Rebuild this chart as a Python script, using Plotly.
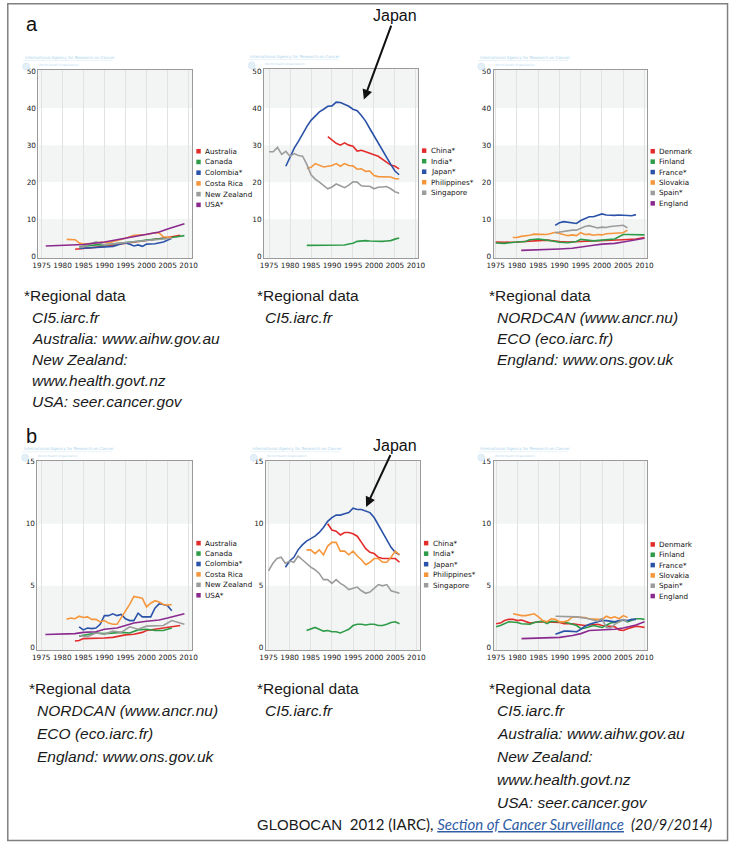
import plotly.graph_objects as go

W, H = 736, 845

# ---------------- colours ----------------
RED, GREEN, BLUE, ORANGE, GREY, PURPLE = "#e32b2b", "#2e9b48", "#2a52a8", "#f5963c", "#9c9c9c", "#8b2a8e"

YEAR_TICKS = [1975, 1980, 1985, 1990, 1995, 2000, 2005, 2010]
YTICKS_A = [0, 10, 20, 30, 40, 50]
YTICKS_B = [0, 5, 10, 15]

# ---------------- panel a1 ----------------
a1_australia = [(1983, 1.8), (1985, 2.0), (1988, 2.3), (1990, 2.6), (1993, 3.1), (1995, 3.4), (1998, 3.9), (2000, 4.2), (2003, 4.6), (2005, 5.0), (2008, 5.6)]
a1_canada = [(1984, 2.5), (1986, 2.8), (1988, 3.0), (1990, 3.0), (1992, 3.2), (1995, 3.6), (1998, 4.0), (2000, 4.3), (2003, 4.6), (2006, 5.0), (2009, 5.5)]
a1_colombia = [(1984, 2.0), (1986, 2.2), (1988, 2.4), (1990, 2.5), (1992, 2.6), (1994, 3.3), (1995, 3.5), (1996, 3.2), (1997, 2.7), (1998, 3.0), (1999, 2.6), (2000, 3.2), (2002, 3.3), (2004, 3.8), (2005, 4.2), (2006, 4.8)]
a1_costa_rica = [(1981, 4.5), (1983, 4.4), (1984, 3.5), (1985, 3.2), (1987, 3.4), (1989, 3.7), (1991, 3.6), (1993, 4.1), (1995, 4.8), (1997, 5.6), (2000, 5.8), (2002, 6.3), (2003, 6.2), (2004, 5.2), (2006, 5.0)]
a1_new_zealand = [(1984, 2.2), (1986, 3.0), (1988, 3.8), (1990, 3.0), (1992, 3.3), (1995, 3.7), (1998, 4.0), (2000, 4.2), (2003, 4.5), (2006, 4.8)]
a1_usa = [(1976, 2.7), (1980, 2.8), (1985, 3.1), (1990, 3.8), (1995, 4.9), (2000, 6.0), (2003, 6.5), (2005, 7.3), (2007, 8.1), (2009, 8.7)]

# ---------------- panel a2 ----------------
a2_china = [(1989, 32.3), (1990, 31.3), (1991, 30.5), (1992, 30.0), (1993, 30.6), (1994, 30.0), (1995, 29.7), (1996, 28.4), (1997, 28.6), (1998, 28.2), (1999, 27.9), (2000, 27.4), (2001, 27.0), (2002, 26.2), (2003, 25.4), (2004, 24.6), (2005, 24.3), (2006, 23.6)]
a2_india = [(1984, 2.9), (1985, 2.9), (1986, 2.8), (1987, 2.9), (1988, 2.9), (1989, 3.0), (1990, 3.0), (1991, 3.0), (1992, 3.0), (1993, 3.0), (1994, 3.3), (1995, 3.5), (1996, 4.0), (1997, 4.2), (1998, 4.2), (1999, 4.1), (2000, 4.0), (2001, 4.1), (2002, 4.0), (2003, 4.1), (2004, 4.2), (2005, 4.6), (2006, 4.9)]
a2_japan = [(1979, 24.3), (1980, 27.0), (1981, 29.2), (1982, 31.0), (1983, 33.2), (1984, 35.0), (1985, 36.7), (1986, 38.0), (1987, 39.0), (1988, 39.7), (1989, 40.5), (1990, 40.6), (1991, 41.6), (1992, 41.5), (1993, 41.0), (1994, 40.5), (1995, 39.7), (1996, 39.3), (1997, 38.0), (1998, 36.5), (1999, 34.5), (2000, 32.5), (2001, 30.8), (2002, 28.8), (2003, 26.8), (2004, 24.8), (2005, 23.0), (2006, 22.0)]
a2_philippines = [(1984, 23.7), (1985, 24.0), (1986, 25.0), (1987, 24.6), (1988, 24.1), (1989, 24.3), (1990, 24.5), (1991, 25.0), (1992, 24.3), (1993, 25.0), (1994, 24.5), (1995, 24.4), (1996, 23.5), (1997, 23.6), (1998, 22.9), (1999, 23.0), (2000, 21.8), (2001, 21.5), (2002, 21.4), (2003, 21.4), (2004, 21.4), (2005, 20.9), (2006, 20.9)]
a2_singapore = [(1975, 28.2), (1976, 28.2), (1977, 29.4), (1978, 27.5), (1979, 28.3), (1980, 27.0), (1981, 27.7), (1982, 27.2), (1983, 27.0), (1984, 24.8), (1985, 22.0), (1986, 20.8), (1987, 20.0), (1988, 19.2), (1989, 18.2), (1990, 18.7), (1991, 19.5), (1992, 19.0), (1993, 18.5), (1994, 19.2), (1995, 20.1), (1996, 20.0), (1997, 19.0), (1998, 18.9), (1999, 18.9), (2000, 18.2), (2001, 18.6), (2002, 18.7), (2003, 18.8), (2004, 18.2), (2005, 17.4), (2006, 17.0)]

# ---------------- panel a3 ----------------
a3_denmark = [(1975, 3.8), (1977, 3.7), (1980, 3.8), (1983, 4.0), (1985, 4.2), (1987, 4.3), (1990, 3.9), (1992, 3.8), (1995, 3.9), (1998, 4.0), (2000, 4.1), (2003, 4.2), (2005, 4.4), (2008, 4.6), (2010, 5.0)]
a3_finland = [(1975, 3.5), (1977, 3.4), (1980, 3.8), (1982, 3.9), (1983, 4.4), (1985, 4.6), (1987, 4.3), (1990, 3.7), (1992, 3.6), (1994, 3.9), (1995, 4.5), (1996, 4.3), (1997, 4.3), (1998, 4.1), (2000, 4.3), (2002, 4.4), (2003, 4.6), (2004, 5.2), (2005, 5.8), (2006, 5.8), (2008, 5.8), (2010, 5.7)]
a3_france = [(1989, 8.3), (1990, 9.0), (1991, 9.3), (1992, 9.2), (1993, 9.0), (1994, 8.8), (1995, 9.6), (1996, 10.1), (1997, 10.6), (1998, 10.6), (1999, 10.9), (2000, 11.4), (2001, 11.1), (2002, 11.0), (2003, 11.0), (2004, 11.1), (2005, 11.1), (2006, 11.0), (2007, 10.9), (2008, 11.2)]
a3_slovakia = [(1979, 5.0), (1980, 5.0), (1981, 5.3), (1982, 5.4), (1983, 5.6), (1984, 5.9), (1985, 5.8), (1986, 5.7), (1987, 5.8), (1988, 6.1), (1989, 6.4), (1990, 6.1), (1991, 5.8), (1992, 5.5), (1993, 5.7), (1994, 5.5), (1995, 6.3), (1996, 5.8), (1997, 5.9), (1998, 5.6), (1999, 5.8), (2000, 5.7), (2001, 6.0), (2002, 6.1), (2003, 6.2), (2004, 6.1), (2005, 6.3), (2006, 7.0)]
a3_spain = [(1989, 6.3), (1990, 6.5), (1991, 6.6), (1992, 7.0), (1993, 7.0), (1994, 7.0), (1995, 7.6), (1996, 8.0), (1997, 8.2), (1998, 7.9), (1999, 7.6), (2000, 7.8), (2001, 7.7), (2002, 8.0), (2003, 8.1), (2004, 8.4), (2005, 8.3), (2006, 7.6)]
a3_england = [(1981, 1.5), (1985, 1.6), (1990, 1.9), (1993, 2.1), (1995, 2.5), (1998, 2.9), (2000, 3.2), (2003, 3.4), (2005, 3.8), (2008, 4.3), (2010, 4.8)]

# ---------------- panel b1 ----------------
b1_australia = [(1983, 0.55), (1984, 0.6), (1985, 0.75), (1987, 0.75), (1990, 0.8), (1992, 0.85), (1995, 1.05), (1997, 1.1), (1999, 1.25), (2000, 1.4), (2002, 1.5), (2004, 1.65), (2006, 1.75), (2008, 1.8)]
b1_canada = [(1984, 0.95), (1986, 1.1), (1988, 1.2), (1990, 1.15), (1992, 1.2), (1994, 1.25), (1996, 1.2), (1998, 1.45), (2000, 1.5), (2002, 1.4), (2004, 1.4), (2006, 1.6)]
b1_colombia = [(1984, 1.7), (1985, 1.45), (1986, 1.6), (1987, 1.55), (1988, 1.6), (1989, 1.9), (1990, 2.6), (1991, 2.6), (1992, 2.75), (1993, 2.6), (1994, 2.7), (1995, 2.35), (1996, 2.2), (1997, 2.2), (1998, 2.8), (1999, 2.5), (2000, 2.5), (2001, 2.5), (2002, 3.2), (2003, 3.55), (2004, 3.5), (2005, 3.4), (2006, 3.0)]
b1_costa_rica = [(1981, 2.3), (1982, 2.4), (1983, 2.35), (1984, 2.55), (1985, 2.45), (1986, 2.5), (1987, 2.3), (1988, 2.3), (1989, 2.1), (1990, 2.2), (1991, 2.0), (1992, 1.9), (1993, 1.9), (1994, 2.4), (1995, 2.9), (1996, 3.5), (1997, 4.15), (1998, 4.1), (1999, 4.0), (2000, 3.3), (2001, 3.6), (2002, 3.8), (2003, 3.7), (2004, 3.5), (2005, 3.45), (2006, 3.5)]
b1_new_zealand = [(1984, 1.0), (1986, 0.9), (1988, 1.2), (1990, 1.1), (1992, 1.35), (1994, 1.25), (1996, 1.7), (1998, 1.5), (2000, 1.75), (2002, 1.75), (2004, 1.8), (2006, 2.2), (2009, 1.9)]
b1_usa = [(1976, 1.08), (1980, 1.1), (1983, 1.15), (1985, 1.25), (1988, 1.3), (1990, 1.5), (1993, 1.6), (1995, 1.8), (1997, 2.0), (2000, 2.15), (2003, 2.25), (2005, 2.4), (2007, 2.6), (2009, 2.75)]

# ---------------- panel b2 ----------------
b2_china = [(1989, 10.0), (1990, 9.5), (1991, 9.4), (1992, 9.1), (1993, 9.3), (1994, 9.3), (1995, 9.2), (1996, 9.0), (1997, 8.5), (1998, 8.0), (1999, 7.7), (2000, 7.6), (2001, 7.3), (2002, 7.2), (2003, 7.2), (2004, 7.2), (2005, 7.2), (2006, 6.9)]
b2_india = [(1984, 1.4), (1985, 1.55), (1986, 1.65), (1987, 1.5), (1988, 1.35), (1989, 1.4), (1990, 1.3), (1991, 1.3), (1992, 1.2), (1993, 1.35), (1994, 1.5), (1995, 1.8), (1996, 1.9), (1997, 1.9), (1998, 1.85), (1999, 1.9), (2000, 1.9), (2001, 1.8), (2002, 1.8), (2003, 1.9), (2004, 2.05), (2005, 2.1), (2006, 1.95)]
b2_japan = [(1979, 6.5), (1980, 7.0), (1981, 7.3), (1982, 7.9), (1983, 8.3), (1984, 8.6), (1985, 8.8), (1986, 9.0), (1987, 9.3), (1988, 9.7), (1989, 10.2), (1990, 10.5), (1991, 10.7), (1992, 10.7), (1993, 10.8), (1994, 10.9), (1995, 11.25), (1996, 11.15), (1997, 11.15), (1998, 11.0), (1999, 10.9), (2000, 10.5), (2001, 9.9), (2002, 9.2), (2003, 8.6), (2004, 8.1), (2005, 7.7), (2006, 7.5)]
b2_philippines = [(1984, 7.9), (1985, 7.9), (1986, 7.6), (1987, 7.9), (1988, 7.5), (1989, 8.2), (1990, 8.5), (1991, 8.5), (1992, 7.8), (1993, 7.8), (1994, 7.5), (1995, 7.8), (1996, 7.4), (1997, 7.1), (1998, 6.7), (1999, 6.9), (2000, 7.2), (2001, 7.2), (2002, 6.9), (2003, 6.9), (2004, 7.3), (2005, 7.8), (2006, 7.5)]
b2_singapore = [(1975, 6.2), (1976, 6.8), (1977, 7.2), (1978, 7.3), (1979, 6.8), (1980, 7.0), (1981, 6.9), (1982, 7.4), (1983, 7.1), (1984, 6.8), (1985, 6.5), (1986, 6.3), (1987, 6.0), (1988, 5.5), (1989, 5.5), (1990, 5.2), (1991, 5.5), (1992, 5.2), (1993, 5.0), (1994, 4.7), (1995, 4.8), (1996, 4.9), (1997, 4.6), (1998, 4.4), (1999, 4.5), (2000, 4.8), (2001, 5.1), (2002, 5.0), (2003, 5.1), (2004, 4.6), (2005, 4.5), (2006, 4.4)]

# ---------------- panel b3 ----------------
b3_denmark = [(1975, 1.95), (1976, 2.0), (1977, 2.2), (1978, 2.3), (1979, 2.3), (1980, 2.2), (1981, 2.25), (1982, 2.15), (1983, 2.0), (1984, 2.05), (1985, 2.1), (1987, 2.1), (1989, 2.1), (1990, 2.05), (1991, 1.95), (1993, 1.95), (1995, 1.85), (1996, 1.8), (1997, 1.85), (1999, 1.9), (2000, 1.8), (2002, 1.75), (2003, 1.7), (2004, 1.45), (2005, 1.4), (2006, 1.55), (2007, 1.65), (2008, 1.75), (2009, 1.7), (2010, 1.65)]
b3_finland = [(1975, 1.7), (1976, 1.8), (1978, 2.1), (1980, 2.05), (1981, 1.95), (1983, 1.9), (1984, 2.05), (1986, 2.15), (1987, 1.95), (1988, 2.15), (1990, 2.1), (1992, 2.0), (1994, 1.8), (1995, 1.55), (1996, 1.6), (1998, 1.8), (2000, 1.65), (2002, 2.0), (2004, 2.1), (2005, 2.25), (2006, 2.1), (2008, 2.35), (2009, 2.35), (2010, 2.3)]
b3_france = [(1989, 1.1), (1990, 1.2), (1991, 1.35), (1992, 1.35), (1993, 1.3), (1994, 1.3), (1995, 1.5), (1996, 1.75), (1997, 1.9), (1998, 2.0), (1999, 2.1), (2000, 2.2), (2001, 2.2), (2002, 2.15), (2003, 2.1), (2004, 2.2), (2005, 2.25), (2006, 2.2), (2007, 2.3), (2008, 2.3)]
b3_slovakia = [(1979, 2.75), (1980, 2.65), (1981, 2.6), (1982, 2.6), (1983, 2.7), (1984, 2.75), (1985, 2.5), (1986, 2.2), (1987, 2.1), (1988, 2.35), (1989, 2.3), (1990, 2.1), (1991, 2.1), (1992, 2.2), (1993, 2.5), (1994, 2.5), (1995, 2.5), (1996, 2.45), (1997, 2.35), (1998, 2.3), (1999, 2.3), (2000, 2.3), (2001, 2.55), (2002, 2.4), (2003, 2.5), (2004, 2.35), (2005, 2.6), (2006, 2.45)]
b3_spain = [(1989, 2.55), (1990, 2.55), (1992, 2.55), (1994, 2.5), (1996, 2.4), (1998, 2.2), (1999, 2.15), (2000, 2.35), (2001, 1.65), (2002, 1.6), (2003, 1.9), (2004, 2.1), (2005, 2.3), (2006, 2.1)]
b3_england = [(1981, 0.75), (1985, 0.8), (1990, 0.85), (1993, 1.0), (1995, 1.15), (1997, 1.4), (2000, 1.45), (2003, 1.5), (2005, 1.6), (2008, 1.85), (2010, 2.1)]

# ---------------- texts ----------------
NOTE_A1 = ["*Regional data", "CI5.iarc.fr", "Australia: www.aihw.gov.au", "New Zealand:", "www.health.govt.nz", "USA: seer.cancer.gov"]
NOTE_A2 = ["*Regional data", "CI5.iarc.fr"]
NOTE_A3 = ["*Regional data", "NORDCAN (www.ancr.nu)", "ECO (eco.iarc.fr)", "England: www.ons.gov.uk"]
NOTE_B1 = NOTE_A3
NOTE_B2 = NOTE_A2
NOTE_B3 = NOTE_A1

AMERICAS = ["Australia", "Canada", "Colombia*", "Costa Rica", "New Zealand", "USA*"]
ASIA = ["China*", "India*", "Japan*", "Philippines*", "Singapore"]
EUROPE = ["Denmark", "Finland", "France*", "Slovakia", "Spain*", "England"]
C6 = [RED, GREEN, BLUE, ORANGE, GREY, PURPLE]
C5 = [RED, GREEN, BLUE, ORANGE, GREY]

panels = [
    dict(box=(32, 67, 189, 257), xr=(1974.25, 2010.9), yr=(-0.6, 50.5), yt=YTICKS_A, bands=[(-1, 10), (20, 30), (40, 60)],
         names=AMERICAS, colors=C6, data=[a1_australia, a1_canada, a1_colombia, a1_costa_rica, a1_new_zealand, a1_usa],
         leg=(193, 149.3, 10.8)),
    dict(box=(262, 66, 419, 257), xr=(1973.8, 2010.5), yr=(-0.55, 50.7), yt=YTICKS_A, bands=[(-1, 10), (20, 30), (40, 60)],
         names=ASIA, colors=C5, data=[a2_china, a2_india, a2_japan, a2_philippines, a2_singapore],
         leg=(423, 148.7, 10.6)),
    dict(box=(496, 67, 652, 257), xr=(1974.5, 2010.5), yr=(-0.6, 50.5), yt=YTICKS_A, bands=[(-1, 10), (20, 30), (40, 60)],
         names=EUROPE, colors=C6, data=[a3_denmark, a3_finland, a3_france, a3_slovakia, a3_spain, a3_england],
         leg=(656, 149.3, 10.5)),
    dict(box=(31, 461, 189, 652), xr=(1974.1, 2010.9), yr=(-0.2, 15.08), yt=YTICKS_B, bands=[(-1, 5), (10, 20)],
         names=AMERICAS, colors=C6, data=[b1_australia, b1_canada, b1_colombia, b1_costa_rica, b1_new_zealand, b1_usa],
         leg=(193, 544.0, 10.5)),
    dict(box=(264, 461, 421, 652), xr=(1974.4, 2010.85), yr=(-0.2, 15.08), yt=YTICKS_B, bands=[(-1, 5), (10, 20)],
         names=ASIA, colors=C5, data=[b2_china, b2_india, b2_japan, b2_philippines, b2_singapore],
         leg=(425, 544.0, 10.6)),
    dict(box=(496, 461, 652, 652), xr=(1974.4, 2010.5), yr=(-0.2, 15.08), yt=YTICKS_B, bands=[(-1, 5), (10, 20)],
         names=EUROPE, colors=C6, data=[b3_denmark, b3_finland, b3_france, b3_slovakia, b3_spain, b3_england],
         leg=(656, 545.3, 10.4)),
]

fig = go.Figure()
shapes = []
annotations = []
layout = {}

def px(x):
    return x / W

def py(y):
    return 1 - y / H

for i, p in enumerate(panels, start=1):
    sfx = "" if i == 1 else str(i)
    x0, y0, x1, y1 = p["box"]
    layout["xaxis" + sfx] = dict(
        domain=[px(x0), px(x1)], range=list(p["xr"]), anchor="y" + sfx,
        tickvals=YEAR_TICKS, showgrid=True, gridcolor="#e2e2e2", gridwidth=1,
        showline=True, linecolor="#9a9a9a", linewidth=1, mirror=True, zeroline=False,
        ticks="", tickfont=dict(family="DejaVu Sans", size=7.3, color="#1a1a1a"), fixedrange=True)
    layout["yaxis" + sfx] = dict(
        domain=[py(y1), py(y0)], range=list(p["yr"]), anchor="x" + sfx,
        tickvals=p["yt"], showgrid=False,
        showline=True, linecolor="#9a9a9a", linewidth=1, mirror=True, zeroline=False,
        ticks="", tickfont=dict(family="DejaVu Sans", size=7.3, color="#1a1a1a"), fixedrange=True)
    for lo, hi in p["bands"]:
        shapes.append(dict(type="rect", xref="x" + sfx + " domain", yref="y" + sfx,
                           x0=0, x1=1, y0=max(lo, p["yr"][0]), y1=min(hi, p["yr"][1]),
                           fillcolor="#f3f5f5", line_width=0, layer="below"))
    for name, color, series in zip(p["names"], p["colors"], p["data"]):
        fig.add_trace(go.Scatter(x=[d[0] for d in series], y=[d[1] for d in series], mode="lines",
                                 line=dict(color=color, width=1.6), name=name, showlegend=False,
                                 xaxis="x" + sfx, yaxis="y" + sfx, hoverinfo="x+y+name"))
    # legend
    lx, ly, ls = p["leg"]
    for k, (name, color) in enumerate(zip(p["names"], p["colors"])):
        cy = ly + k * ls
        shapes.append(dict(type="rect", xref="paper", yref="paper",
                           x0=px(lx), x1=px(lx + 4.5), y0=py(cy + 2.3), y1=py(cy - 2.3),
                           fillcolor=color, line_width=0))
        annotations.append(dict(text=name, xref="paper", yref="paper", x=px(lx + 7), y=py(cy),
                                xanchor="left", yanchor="middle", showarrow=False,
                                font=dict(family="DejaVu Sans", size=7.2, color="#111111")))
    # tiny IARC header
    annotations.append(dict(text="International Agency for Research on Cancer", xref="paper", yref="paper",
                            x=px(x0 - 16), y=py(y0 - 12), xanchor="left", yanchor="middle", showarrow=False,
                            font=dict(family="DejaVu Sans", size=4, color="#a9d3ee")))
    annotations.append(dict(text="World Health Organization", xref="paper", yref="paper",
                            x=px(x0 - 1), y=py(y0 - 5), xanchor="left", yanchor="middle", showarrow=False,
                            font=dict(family="DejaVu Sans", size=3, color="#bcdcf0")))
    shapes.append(dict(type="line", xref="paper", yref="paper", x0=px(x0 - 16), x1=px(x0 + 76),
                       y0=py(y0 - 9), y1=py(y0 - 9), line=dict(color="#dcecf7", width=0.6)))
    shapes.append(dict(type="circle", xref="paper", yref="paper", x0=px(x0 - 16), x1=px(x0 - 9),
                       y0=py(y0 + 0.5), y1=py(y0 - 6.5), fillcolor="#e4f0f8", line=dict(color="#cfe3f2", width=0.6)))

# panel letters
for letter, (lx, ly) in {"a": (17, 21), "b": (17, 436)}.items():
    annotations.append(dict(text=letter, xref="paper", yref="paper", x=px(lx), y=py(ly),
                            xanchor="left", yanchor="middle", showarrow=False,
                            font=dict(family="Liberation Sans", size=20, color="#111111")))

# Japan arrows
annotations.append(dict(text="Japan", xref="x2", yref="y2", x=1997.6, y=42.3, ax=31, ay=-84,
                        showarrow=True, arrowhead=2, arrowsize=1, arrowwidth=2, arrowcolor="#111111",
                        font=dict(family="Liberation Sans", size=16, color="#111111")))
annotations.append(dict(text="Japan", xref="x5", yref="y5", x=1998.1, y=11.35, ax=29, ay=-62,
                        showarrow=True, arrowhead=2, arrowsize=1, arrowwidth=2, arrowcolor="#111111",
                        font=dict(family="Liberation Sans", size=16, color="#111111")))

# notes
def add_note(lines, x_head, x_body, y_first, step):
    for k, line in enumerate(lines):
        txt = line if k == 0 else "<i>" + line + "</i>"
        annotations.append(dict(text=txt, xref="paper", yref="paper",
                                x=px(x_head if k == 0 else x_body), y=py(y_first + k * step),
                                xanchor="left", yanchor="middle", showarrow=False,
                                font=dict(family="Liberation Sans", size=15.5, color="#1a1a1a")))

add_note(NOTE_A1, 15, 23, 295, 21.3)
add_note(NOTE_A2, 253, 261, 295, 21.3)
add_note(NOTE_A3, 489, 497, 295, 21.3)
add_note(NOTE_B1, 20, 29, 690, 23)
add_note(NOTE_B2, 253, 261, 690, 23)
add_note(NOTE_B3, 489, 497, 690, 23)

annotations.append(dict(
    text=("<span style='font-family:Liberation Sans'>GLOBOCAN</span>"
          "<span style='font-family:Lato'>  2012 (IARC), </span>"
          "<span style='font-family:Lato;color:#2f5ea6;text-decoration:underline'><i>Section of Cancer Surveillance</i></span>"
          "<span style='font-family:Lato'><i>  (20/9/2014)</i></span>"),
    xref="paper", yref="paper", x=px(253), y=py(827), xanchor="left", yanchor="middle", showarrow=False,
    font=dict(family="Liberation Sans", size=15, color="#1a1a1a")))

# outer frame
shapes.append(dict(type="rect", xref="paper", yref="paper", x0=px(0.8), x1=px(734.5), y0=py(843.5), y1=py(0.8),
                   line=dict(color="#808080", width=1.5), fillcolor="rgba(0,0,0,0)"))

fig.update_layout(width=W, height=H, margin=dict(l=0, r=0, t=0, b=0), paper_bgcolor="white",
                  plot_bgcolor="white", showlegend=False, shapes=shapes, annotations=annotations, **layout)

fig.write_html("out.html", config={"displayModeBar": False},
               post_script="document.body.style.margin='0';document.body.style.overflow='hidden';")
